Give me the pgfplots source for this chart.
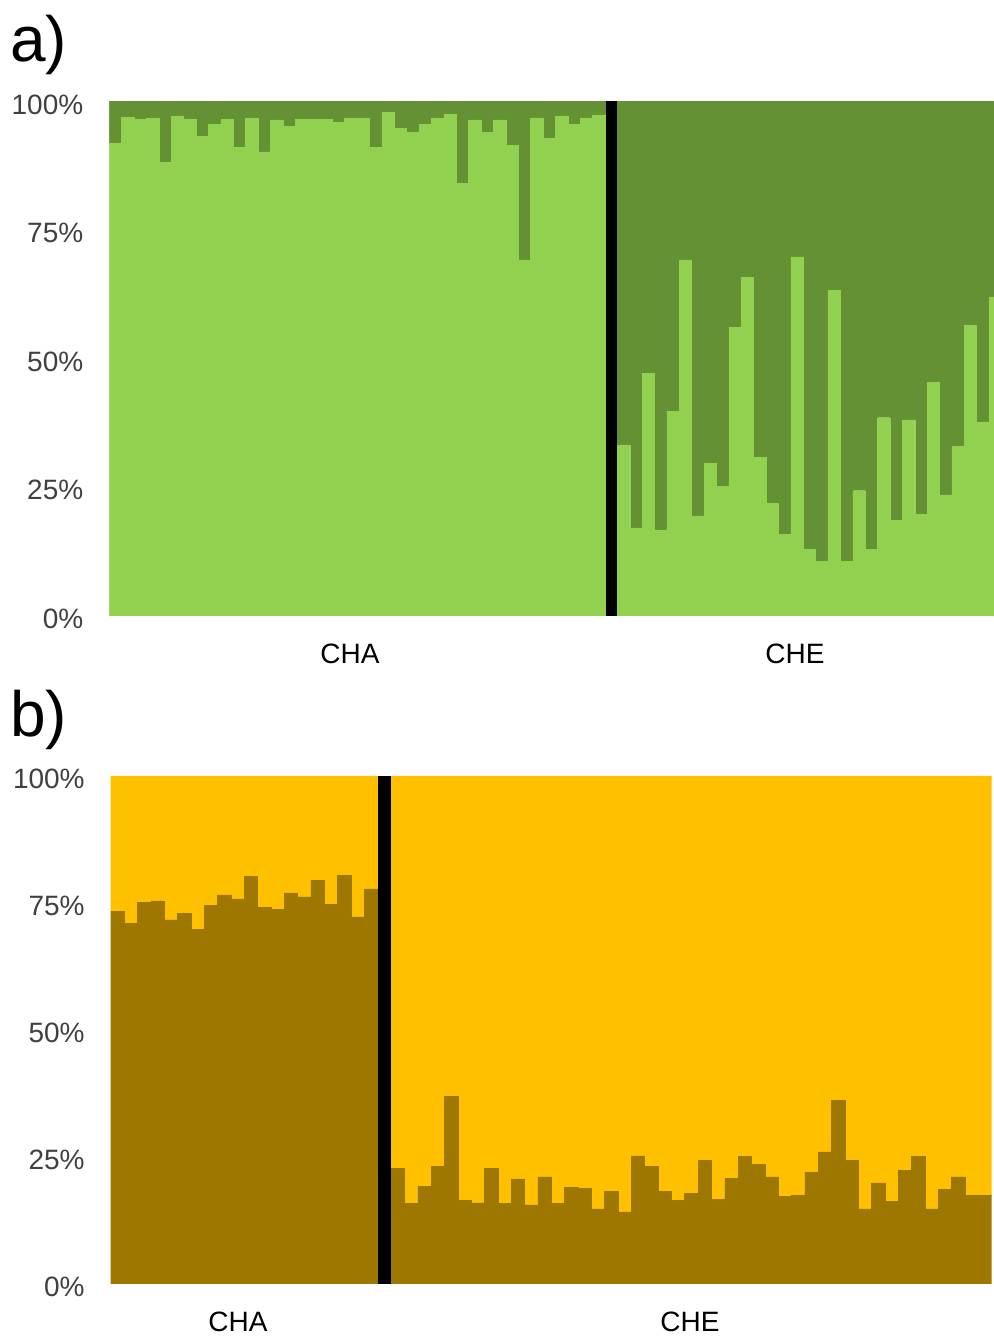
\documentclass[border=0pt]{standalone}
\usepackage{pgfplots}
\usepackage{pgfplotstable}
\pgfplotsset{compat=1.18}
\usepackage{fontspec}
\setmainfont{Liberation Sans}

\definecolor{lightgrn}{HTML}{92D050}
\definecolor{darkgrn}{HTML}{639133}
\definecolor{gold}{HTML}{FFC000}
\definecolor{ochre}{HTML}{9E7700}
\definecolor{ticktext}{HTML}{404040}

% k = individual, v = share of the lower cluster (%), s = separator column
\pgfplotstableread{
k v s
1 91.9 0
2 96.9 0
3 96.5 0
4 96.8 0
5 88.2 0
6 97.2 0
7 96.6 0
8 93.2 0
9 95.6 0
10 96.5 0
11 91.1 0
12 96.8 0
13 90.2 0
14 96.4 0
15 95.2 0
16 96.5 0
17 96.5 0
18 96.5 0
19 96.0 0
20 96.8 0
21 96.8 0
22 91.1 0
23 97.9 0
24 94.8 0
25 94.0 0
26 95.6 0
27 96.8 0
28 97.5 0
29 84.1 0
30 96.4 0
31 94.0 0
32 96.4 0
33 91.5 0
34 69.2 0
35 96.8 0
36 92.8 0
37 97.2 0
38 95.6 0
39 96.8 0
40 97.4 0
41 0 100
42 33.2 0
43 17.1 0
44 47.1 0
45 16.7 0
46 39.8 0
47 69.2 0
48 19.4 0
49 29.6 0
50 25.1 0
51 56.1 0
52 65.8 0
53 30.8 0
54 21.9 0
55 15.8 0
56 69.8 0
57 12.9 0
58 10.5 0
59 63.3 0
60 10.5 0
61 24.3 0
62 12.9 0
63 38.5 0
64 18.6 0
65 38.1 0
66 19.8 0
67 45.4 0
68 23.5 0
69 32.9 0
70 56.4 0
71 37.7 0
72 62.0 0
}\panelA

\pgfplotstableread{
k v s
1 73.3 0
2 71.0 0
3 75.1 0
4 75.4 0
5 71.7 0
6 73.0 0
7 69.8 0
8 74.6 0
9 76.6 0
10 75.8 0
11 80.3 0
12 74.2 0
13 73.8 0
14 77.0 0
15 76.2 0
16 79.4 0
17 74.7 0
18 80.5 0
19 72.3 0
20 77.8 0
21 0 100
22 22.8 0
23 15.9 0
24 19.2 0
25 23.2 0
26 37.0 0
27 16.4 0
28 16.0 0
29 22.8 0
30 15.9 0
31 20.7 0
32 15.6 0
33 21.1 0
34 15.9 0
35 19.0 0
36 18.8 0
37 14.8 0
38 18.3 0
39 14.2 0
40 25.2 0
41 23.2 0
42 18.3 0
43 16.4 0
44 17.9 0
45 24.4 0
46 16.7 0
47 20.8 0
48 25.1 0
49 23.6 0
50 21.1 0
51 17.2 0
52 17.4 0
53 22.0 0
54 26.0 0
55 36.1 0
56 24.4 0
57 14.8 0
58 19.9 0
59 16.3 0
60 22.4 0
61 25.1 0
62 14.8 0
63 18.7 0
64 21.1 0
65 17.5 0
66 17.5 0
}\panelB

\pgfplotsset{admix/.style={
  scale only axis, ybar stacked, bar width=1,
  ymin=0, ymax=100, xmin=0.5,
  ytick={0,25,50,75,100},
  yticklabel={\pgfmathprintnumber{\tick}\%},
  /pgf/number format/assume math mode=true,
  axis line style={draw=none}, major tick length=0pt,
  tick style={draw=none},
  tick label style={font=\fontsize{14}{16}\selectfont, text=ticktext},
  yticklabel style={xshift=-9.5pt, yshift=-1.5pt},
  xticklabel style={yshift=-10.5pt, text=black},
}}

\begin{document}
\begin{tikzpicture}
\path[use as bounding box] (0pt,0pt) rectangle (497pt,668.5pt);

% panel a
\begin{axis}[admix, at={(54.65pt,360.65pt)}, anchor=south west,
  width=442.35pt, height=257.1pt, xmax=71.9,
  xtick={19.93,55.84}, xticklabels={CHA,CHE}]
\addplot[fill=lightgrn, draw=lightgrn, line width=0.2pt] table[x=k, y=v] {\panelA};
\addplot[fill=darkgrn, draw=darkgrn, line width=0.2pt] table[x=k, y expr=100-\thisrow{v}-\thisrow{s}] {\panelA};
\addplot[fill=black, draw=none] table[x=k, y=s] {\panelA};
\end{axis}

% panel b
\begin{axis}[admix, at={(55.35pt,26.5pt)}, anchor=south west,
  width=440.5pt, height=254pt, xmax=66.5,
  xtick={10.04,43.9}, xticklabels={CHA,CHE}]
\addplot[fill=ochre, draw=ochre, line width=0.2pt] table[x=k, y=v] {\panelB};
\addplot[fill=gold, draw=gold, line width=0.2pt] table[x=k, y expr=100-\thisrow{v}-\thisrow{s}] {\panelB};
\addplot[fill=black, draw=none] table[x=k, y=s] {\panelB};
\end{axis}

\node[anchor=north west, inner sep=0pt, font=\fontsize{32}{36}\selectfont] at (5pt,661pt) {a)};
\node[anchor=north west, inner sep=0pt, font=\fontsize{32}{36}\selectfont] at (5pt,323.5pt) {b)};
\end{tikzpicture}
\end{document}
